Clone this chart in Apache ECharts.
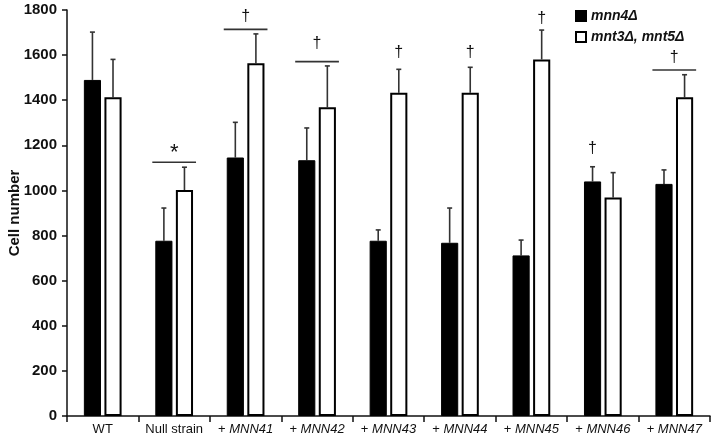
<!DOCTYPE html>
<html>
<head>
<meta charset="utf-8">
<script src="https://cdn.jsdelivr.net/npm/echarts@6/dist/echarts.min.js"></script>
<style>
  html, body { margin: 0; padding: 0; background: #fff; }
  #chart { width: 714px; height: 439px; }
</style>
</head>
<body>
<div id="chart"></div>
<script>
const categories = ['WT', 'Null strain', '+ MNN41', '+ MNN42', '+ MNN43', '+ MNN44', '+ MNN45', '+ MNN46', '+ MNN47'];
const seriesNames = ['mnn4Δ', 'mnt3Δ, mnt5Δ'];
const mnn4Mean = [1490, 777, 1146, 1134, 777, 768, 712, 1040, 1029];
const mnn4Err = [212, 145, 156, 143, 48, 154, 68, 65, 62];
const mnt35Mean = [1413, 1002, 1564, 1369, 1433, 1433, 1581, 969, 1413];
const mnt35Err = [168, 101, 130, 183, 104, 113, 130, 110, 100];
const yTicks = [0, 200, 400, 600, 800, 1000, 1200, 1400, 1600, 1800];

// significance marks: category, line level (null = no line), symbol level, symbol, which bar
const sigCategory = [1, 2, 3, 4, 5, 6, 7, 8];
const sigLine = [1125, 1714, 1571, null, null, null, null, 1534];
const sigLevel = [1182, 1772, 1650, 1609, 1609, 1760, 1184, 1590];
const sigSymbol = ['*', '†', '†', '†', '†', '†', '†', '†'];
const sigBar = ['pair', 'pair', 'pair', 'white', 'white', 'white', 'black', 'pair'];

const chart = echarts.init(document.getElementById('chart'));

const BAR_W = 0.24;
const SHIFT = 0.144;

const errRender = (sign) => (params, api) => {
  const i = api.value(0);
  const v = api.value(1);
  const e = api.value(2);
  const band = api.size([1, 0])[0];
  const base = api.coord([i, v]);
  const top = api.coord([i, v + e]);
  const x = base[0] + sign * band * SHIFT;
  const style = { stroke: '#333', lineWidth: 1.6 };
  return {
    type: 'group',
    children: [
      { type: 'line', shape: { x1: x, y1: base[1], x2: x, y2: top[1] }, style },
      { type: 'line', shape: { x1: x - 2.5, y1: top[1], x2: x + 2.5, y2: top[1] }, style },
    ],
  };
};

const sigRender = (params, api) => {
  const k = params.dataIndex;
  const i = sigCategory[k];
  const band = api.size([1, 0])[0];
  const c = api.coord([i, sigLevel[k]]);
  let x = c[0];
  if (sigBar[k] === 'black') x -= band * SHIFT;
  if (sigBar[k] === 'white') x += band * SHIFT;
  const children = [];
  if (sigLine[k] !== null) {
    const ly = api.coord([i, sigLine[k]])[1];
    const half = band * (SHIFT + BAR_W / 2) + 3;
    children.push({
      type: 'line',
      shape: { x1: c[0] - half, y1: ly, x2: c[0] + half, y2: ly },
      style: { stroke: '#333', lineWidth: 1.6 },
    });
  }
  const isStar = sigSymbol[k] === '*';
  children.push({
    type: 'text',
    x: x,
    y: c[1] + (isStar ? 4 : 0),
    style: {
      text: sigSymbol[k],
      fill: '#111',
      font: (isStar ? '22px' : '16px') + ' "Liberation Sans", Arial, sans-serif',
      align: 'center',
      verticalAlign: 'middle',
    },
  });
  return { type: 'group', children };
};

chart.setOption({
  animation: false,
  backgroundColor: '#fff',
  textStyle: { fontFamily: '"Liberation Sans", Arial, sans-serif' },
  legend: {
    orient: 'vertical',
    left: 570,
    top: 4,
    itemWidth: 10,
    itemHeight: 10,
    itemGap: 7,
    icon: 'rect',
    data: seriesNames,
    textStyle: { fontSize: 14, fontStyle: 'italic', fontWeight: 'bold', color: '#111' },
  },
  grid: { left: 67, right: 4, top: 10, bottom: 23, outerBoundsMode: 'none' },
  xAxis: {
    type: 'category',
    data: categories,
    axisLine: { lineStyle: { color: '#111', width: 1.5 } },
    axisTick: { show: true, length: 6, lineStyle: { color: '#111', width: 1.5 } },
    axisLabel: {
      margin: 7,
      color: '#111',
      fontSize: 13,
      interval: 0,
      formatter: (val) => (val.startsWith('+ ') ? '+ {i|' + val.slice(2) + '}' : val),
      rich: { i: { fontStyle: 'italic', fontSize: 13, color: '#111' } },
    },
  },
  yAxis: {
    type: 'value',
    min: yTicks[0],
    max: yTicks[yTicks.length - 1],
    interval: yTicks[1] - yTicks[0],
    name: 'Cell number',
    nameLocation: 'middle',
    nameGap: 45,
    nameMoveOverlap: false,
    nameTextStyle: { fontSize: 15, fontWeight: 'bold', color: '#111' },
    axisLine: { show: true, lineStyle: { color: '#111', width: 1.5 } },
    axisTick: { show: true, length: 5, lineStyle: { color: '#111', width: 1.5 } },
    axisLabel: { color: '#111', fontSize: 15, fontWeight: 'bold', margin: 10, formatter: (v) => String(v) },
    splitLine: { show: false },
  },
  series: [
    {
      name: seriesNames[0],
      type: 'bar',
      data: mnn4Mean,
      barWidth: BAR_W * 100 + '%',
      barGap: '20%',
      itemStyle: { color: '#000', borderColor: '#000', borderWidth: 1 },
    },
    {
      name: seriesNames[1],
      type: 'bar',
      data: mnt35Mean,
      barWidth: BAR_W * 100 + '%',
      barGap: '20%',
      itemStyle: { color: '#fff', borderColor: '#000', borderWidth: 2 },
    },
    {
      type: 'custom',
      renderItem: errRender(-1),
      data: mnn4Mean.map((v, i) => [i, v, mnn4Err[i]]),
      encode: { x: 0, y: 1 },
      z: 1,
    },
    {
      type: 'custom',
      renderItem: errRender(1),
      data: mnt35Mean.map((v, i) => [i, v, mnt35Err[i]]),
      encode: { x: 0, y: 1 },
      z: 1,
    },
    {
      type: 'custom',
      renderItem: sigRender,
      data: sigCategory.map((c, k) => [c, sigLevel[k]]),
      encode: { x: 0, y: 1 },
      z: 3,
    },
  ],
});
</script>
</body>
</html>
